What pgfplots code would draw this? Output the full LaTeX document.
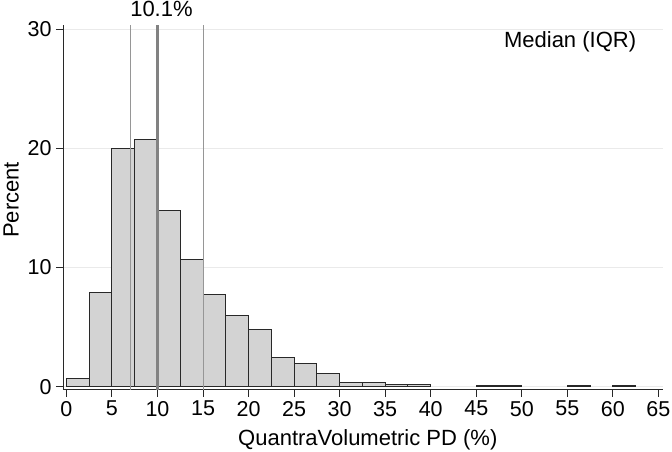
\documentclass[border=0pt]{standalone}
\usepackage{pgfplots}
\pgfplotsset{compat=1.18}
\usepackage{fontspec}
\setmainfont{Liberation Sans}
\definecolor{barfill}{RGB}{211,211,211}
\definecolor{barline}{RGB}{40,40,40}
\definecolor{axcol}{RGB}{40,40,40}
\definecolor{gridcol}{RGB}{234,234,234}
\definecolor{iqrcol}{RGB}{150,150,150}
\definecolor{medcol}{RGB}{130,130,130}
\begin{document}
\begin{tikzpicture}
\begin{axis}[
  at={(0,0)}, anchor=south west,
  scale only axis, width=600pt, height=364.5pt,
  xmin=-0.37, xmax=65.5, ymin=-0.24, ymax=30.36,
  axis x line*=bottom, axis y line*=left,
  axis line style={-, draw=axcol, line width=0.9pt},
  xtick={0,5,...,65}, ytick={0,10,20,30},
  tick align=outside, major tick length=7pt,
  tick style={draw=axcol, line width=0.9pt},
  ymajorgrids, grid style={draw=gridcol, line width=0.9pt},
  tick label style={font=\fontsize{21.5}{25}\selectfont},
  /pgf/number format/assume math mode=true,
  xticklabel style={yshift=-1pt},
  yticklabel style={xshift=-1pt},
  xlabel={QuantraVolumetric PD (\%)},
  ylabel={Percent},
  label style={font=\fontsize{22}{26}\selectfont},
  xlabel style={at={(axis description cs:0.508,0)}, anchor=base, yshift=-55.5pt},
  ylabel style={at={(axis description cs:-0.074,0.52)}, anchor=base},
  clip=false,
]
\addplot[ybar interval, fill=barfill, draw=barline, line width=1pt] coordinates {
(0,0.71) (2.5,7.93) (5,20.03) (7.5,20.73) (10,14.75) (12.5,10.7) (15,7.76)
(17.5,6.0) (20,4.76) (22.5,2.44) (25,1.93) (27.5,1.07) (30,0.37) (32.5,0.37)
(35,0.2) (37.5,0.2) (40,0.2)};
\addplot[ybar interval, fill=barfill, draw=barline, line width=1pt] coordinates {
(45,0.06) (47.5,0.06) (50,0.06)};
\addplot[ybar interval, fill=barfill, draw=barline, line width=1pt] coordinates {
(55,0.06) (57.5,0.06)};
\addplot[ybar interval, fill=barfill, draw=barline, line width=1pt] coordinates {
(60,0.06) (62.5,0.06)};
\addplot[draw=iqrcol, line width=1.1pt] coordinates {(7.0,-0.24) (7.0,30.36)};
\addplot[draw=iqrcol, line width=1.1pt] coordinates {(15.1,-0.24) (15.1,30.36)};
\addplot[draw=medcol, line width=3pt] coordinates {(10.05,-0.24) (10.05,30.36)};
\node[anchor=base, font=\fontsize{22}{26}\selectfont, inner sep=0pt] at (axis cs:10.44,30.36) [yshift=9pt] {10.1\%};
\node[anchor=base, font=\fontsize{22}{26}\selectfont, inner sep=0pt] at (axis cs:55.3,28.46) {Median (IQR)};
\end{axis}
\pgfresetboundingbox
\path (-63pt,-61.5pt) rectangle (609pt,389.5pt);
\end{tikzpicture}
\end{document}
